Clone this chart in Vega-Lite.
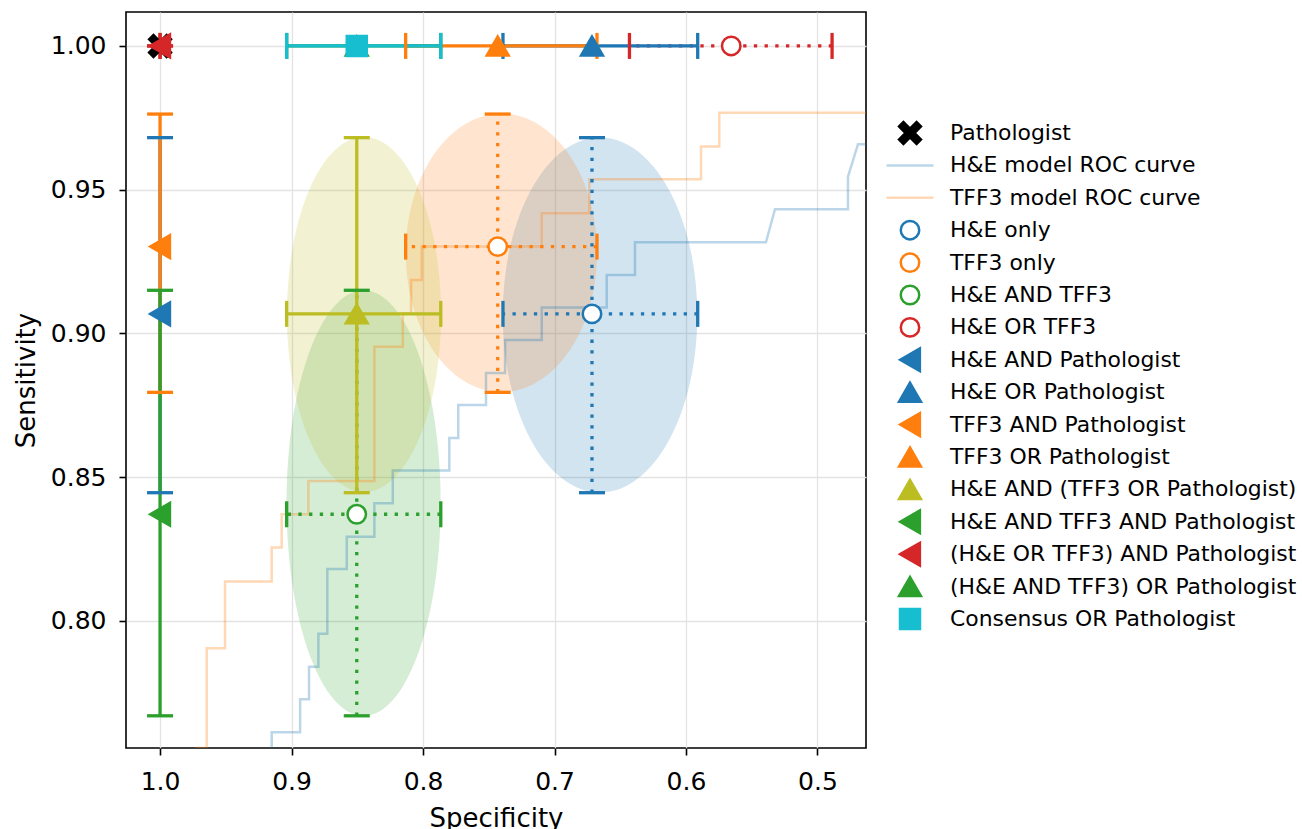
{
  "$schema": "https://vega.github.io/schema/vega-lite/v6.json",
  "width": 740,
  "height": 736,
  "autosize": {"type": "none"},
  "padding": {"left": 126, "top": 12, "right": 436, "bottom": 81},
  "background": "white",
  "datasets": {
    "points": [
      {"label": "Pathologist", "spec": 1.0, "sens": 1.0},
      {"label": "H&E only", "spec": 0.6715, "sens": 0.9068},
      {"label": "TFF3 only", "spec": 0.7432, "sens": 0.9302},
      {"label": "H&E AND TFF3", "spec": 0.8504, "sens": 0.8371},
      {"label": "H&E OR TFF3", "spec": 0.5656, "sens": 1.0},
      {"label": "H&E AND Pathologist", "spec": 1.0, "sens": 0.9068},
      {"label": "H&E OR Pathologist", "spec": 0.6715, "sens": 1.0},
      {"label": "TFF3 AND Pathologist", "spec": 1.0, "sens": 0.9302},
      {"label": "TFF3 OR Pathologist", "spec": 0.7432, "sens": 1.0},
      {"label": "H&E AND (TFF3 OR Pathologist)", "spec": 0.8504, "sens": 0.9068},
      {"label": "H&E AND TFF3 AND Pathologist", "spec": 1.0, "sens": 0.8371},
      {"label": "(H&E OR TFF3) AND Pathologist", "spec": 1.0, "sens": 1.0},
      {"label": "(H&E AND TFF3) OR Pathologist", "spec": 0.8504, "sens": 1.0},
      {"label": "Consensus OR Pathologist", "spec": 0.8504, "sens": 1.0}
    ],
    "vbars": [
      {"label": "H&E only", "kind": "model", "spec": 0.6715, "ylo": 0.8446, "yhi": 0.9681},
      {"label": "TFF3 only", "kind": "model", "spec": 0.7432, "ylo": 0.8795, "yhi": 0.9763},
      {"label": "H&E AND TFF3", "kind": "model", "spec": 0.8504, "ylo": 0.767, "yhi": 0.915},
      {"label": "H&E AND Pathologist", "kind": "combined", "spec": 1.0, "ylo": 0.8446, "yhi": 0.9681},
      {"label": "TFF3 AND Pathologist", "kind": "combined", "spec": 1.0, "ylo": 0.8795, "yhi": 0.9763},
      {"label": "H&E AND (TFF3 OR Pathologist)", "kind": "combined", "spec": 0.8504, "ylo": 0.8446, "yhi": 0.9681},
      {"label": "H&E AND TFF3 AND Pathologist", "kind": "combined", "spec": 1.0, "ylo": 0.767, "yhi": 0.915},
      {"label": "(H&E OR TFF3) AND Pathologist", "kind": "combined", "spec": 1.0, "ylo": 1.0, "yhi": 1.0}
    ],
    "hbars": [
      {"label": "H&E only", "kind": "model", "sens": 0.9068, "xlo": 0.5911, "xhi": 0.7392},
      {"label": "TFF3 only", "kind": "model", "sens": 0.9302, "xlo": 0.6677, "xhi": 0.8132},
      {"label": "H&E AND TFF3", "kind": "model", "sens": 0.8371, "xlo": 0.7865, "xhi": 0.9037},
      {"label": "H&E OR TFF3", "kind": "model", "sens": 1.0, "xlo": 0.4889, "xhi": 0.643},
      {"label": "H&E OR Pathologist", "kind": "combined", "sens": 1.0, "xlo": 0.5911, "xhi": 0.7392},
      {"label": "TFF3 OR Pathologist", "kind": "combined", "sens": 1.0, "xlo": 0.6677, "xhi": 0.8132},
      {"label": "H&E AND (TFF3 OR Pathologist)", "kind": "combined", "sens": 0.9068, "xlo": 0.7865, "xhi": 0.9037},
      {"label": "(H&E OR TFF3) AND Pathologist", "kind": "combined", "sens": 1.0, "xlo": 1.0, "xhi": 1.0},
      {"label": "(H&E AND TFF3) OR Pathologist", "kind": "combined", "sens": 1.0, "xlo": 0.7865, "xhi": 0.9037},
      {"label": "Consensus OR Pathologist", "kind": "combined", "sens": 1.0, "xlo": 0.7865, "xhi": 0.9037}
    ],
    "rocHE": [
      {"i": 0, "spec": 0.9151, "sens": 0.745}, {"i": 1, "spec": 0.9151, "sens": 0.7613},
      {"i": 2, "spec": 0.8935, "sens": 0.7613}, {"i": 3, "spec": 0.8935, "sens": 0.7728},
      {"i": 4, "spec": 0.8867, "sens": 0.7728}, {"i": 5, "spec": 0.8867, "sens": 0.7841},
      {"i": 6, "spec": 0.8796, "sens": 0.7841}, {"i": 7, "spec": 0.8796, "sens": 0.7955},
      {"i": 8, "spec": 0.8728, "sens": 0.7955}, {"i": 9, "spec": 0.8728, "sens": 0.8181},
      {"i": 10, "spec": 0.858, "sens": 0.8181}, {"i": 11, "spec": 0.858, "sens": 0.8293},
      {"i": 12, "spec": 0.837, "sens": 0.8293}, {"i": 13, "spec": 0.837, "sens": 0.8409},
      {"i": 14, "spec": 0.823, "sens": 0.8409}, {"i": 15, "spec": 0.823, "sens": 0.8523},
      {"i": 16, "spec": 0.78, "sens": 0.8523}, {"i": 17, "spec": 0.78, "sens": 0.8636},
      {"i": 18, "spec": 0.7732, "sens": 0.8636}, {"i": 19, "spec": 0.7732, "sens": 0.8751},
      {"i": 20, "spec": 0.7521, "sens": 0.8751}, {"i": 21, "spec": 0.7521, "sens": 0.8862},
      {"i": 22, "spec": 0.7376, "sens": 0.8862}, {"i": 23, "spec": 0.7376, "sens": 0.8977},
      {"i": 24, "spec": 0.7097, "sens": 0.8977}, {"i": 25, "spec": 0.7097, "sens": 0.909},
      {"i": 26, "spec": 0.6603, "sens": 0.909}, {"i": 27, "spec": 0.6603, "sens": 0.9203},
      {"i": 28, "spec": 0.6388, "sens": 0.9203}, {"i": 29, "spec": 0.6388, "sens": 0.9317},
      {"i": 30, "spec": 0.5392, "sens": 0.9317}, {"i": 31, "spec": 0.5323, "sens": 0.9432},
      {"i": 32, "spec": 0.4768, "sens": 0.9432}, {"i": 33, "spec": 0.4768, "sens": 0.9545},
      {"i": 34, "spec": 0.4692, "sens": 0.9658}, {"i": 35, "spec": 0.44, "sens": 0.9658}
    ],
    "rocTFF3": [
      {"i": 0, "spec": 0.9721, "sens": 0.745}, {"i": 1, "spec": 0.9721, "sens": 0.7558},
      {"i": 2, "spec": 0.9645, "sens": 0.7558}, {"i": 3, "spec": 0.9645, "sens": 0.7905},
      {"i": 4, "spec": 0.9506, "sens": 0.7905}, {"i": 5, "spec": 0.9506, "sens": 0.8137},
      {"i": 6, "spec": 0.9151, "sens": 0.8137}, {"i": 7, "spec": 0.9151, "sens": 0.8255},
      {"i": 8, "spec": 0.9075, "sens": 0.8255}, {"i": 9, "spec": 0.9075, "sens": 0.8371},
      {"i": 10, "spec": 0.8872, "sens": 0.8371}, {"i": 11, "spec": 0.8872, "sens": 0.8487},
      {"i": 12, "spec": 0.837, "sens": 0.8487}, {"i": 13, "spec": 0.837, "sens": 0.8954},
      {"i": 14, "spec": 0.8154, "sens": 0.8954}, {"i": 15, "spec": 0.8154, "sens": 0.907},
      {"i": 16, "spec": 0.8091, "sens": 0.907}, {"i": 17, "spec": 0.8091, "sens": 0.9186},
      {"i": 18, "spec": 0.801, "sens": 0.9186}, {"i": 19, "spec": 0.801, "sens": 0.9302},
      {"i": 20, "spec": 0.7097, "sens": 0.9302}, {"i": 21, "spec": 0.7097, "sens": 0.9418},
      {"i": 22, "spec": 0.6735, "sens": 0.9418}, {"i": 23, "spec": 0.6735, "sens": 0.9536},
      {"i": 24, "spec": 0.5886, "sens": 0.9536}, {"i": 25, "spec": 0.5886, "sens": 0.965},
      {"i": 26, "spec": 0.5747, "sens": 0.965}, {"i": 27, "spec": 0.5747, "sens": 0.9768},
      {"i": 28, "spec": 0.44, "sens": 0.9768}
    ]
  },
  "layer": [
    {
      "data": {"values": [{"label": "H&E only", "spec": 0.6654, "sens": 0.9064}]},
      "mark": {"type": "point", "shape": "M0,-1C0.3027,-1 0.548,-0.5523 0.548,0C0.548,0.5523 0.3027,1 0,1C-0.3027,1 -0.548,0.5523 -0.548,0C-0.548,-0.5523 -0.3027,-1 0,-1Z", "size": 126025, "filled": true, "fill": "#1f77b4", "fillOpacity": 0.2, "strokeWidth": 0, "opacity": 1},
      "encoding": {
        "x": {"field": "spec", "type": "quantitative", "scale": {"domain": [0.4631, 1.0259], "reverse": true, "nice": false, "zero": false}, "axis": {"title": "Specificity", "values": [0.5, 0.6, 0.7, 0.8, 0.9, 1.0], "format": ".1f", "labelPadding": 14, "titlePadding": 11}},
        "y": {"field": "sens", "type": "quantitative", "scale": {"domain": [0.7558, 1.0118], "nice": false, "zero": false}, "axis": {"title": "Sensitivity", "values": [0.8, 0.85, 0.9, 0.95, 1.0], "format": ".2f", "labelPadding": 13, "titlePadding": 11}}
      }
    },
    {
      "data": {"values": [{"label": "TFF3 only", "spec": 0.7404, "sens": 0.928}]},
      "mark": {"type": "point", "shape": "M0,-1C0.3794,-1 0.687,-0.5523 0.687,0C0.687,0.5523 0.3794,1 0,1C-0.3794,1 -0.687,0.5523 -0.687,0C-0.687,-0.5523 -0.3794,-1 0,-1Z", "size": 77451, "filled": true, "fill": "#ff7f0e", "fillOpacity": 0.2, "strokeWidth": 0, "opacity": 1},
      "encoding": {
        "x": {"field": "spec", "type": "quantitative", "scale": {"domain": [0.4631, 1.0259], "reverse": true, "nice": false, "zero": false}, "axis": {"title": "Specificity", "values": [0.5, 0.6, 0.7, 0.8, 0.9, 1.0], "format": ".1f", "labelPadding": 14, "titlePadding": 11}},
        "y": {"field": "sens", "type": "quantitative", "scale": {"domain": [0.7558, 1.0118], "nice": false, "zero": false}, "axis": {"title": "Sensitivity", "values": [0.8, 0.85, 0.9, 0.95, 1.0], "format": ".2f", "labelPadding": 13, "titlePadding": 11}}
      }
    },
    {
      "data": {"values": [{"label": "H&E AND TFF3", "spec": 0.8452, "sens": 0.841}]},
      "mark": {"type": "point", "shape": "M0,-1C0.1999,-1 0.362,-0.5523 0.362,0C0.362,0.5523 0.1999,1 0,1C-0.1999,1 -0.362,0.5523 -0.362,0C-0.362,-0.5523 -0.1999,-1 0,-1Z", "size": 181220, "filled": true, "fill": "#2ca02c", "fillOpacity": 0.2, "strokeWidth": 0, "opacity": 1},
      "encoding": {
        "x": {"field": "spec", "type": "quantitative", "scale": {"domain": [0.4631, 1.0259], "reverse": true, "nice": false, "zero": false}, "axis": {"title": "Specificity", "values": [0.5, 0.6, 0.7, 0.8, 0.9, 1.0], "format": ".1f", "labelPadding": 14, "titlePadding": 11}},
        "y": {"field": "sens", "type": "quantitative", "scale": {"domain": [0.7558, 1.0118], "nice": false, "zero": false}, "axis": {"title": "Sensitivity", "values": [0.8, 0.85, 0.9, 0.95, 1.0], "format": ".2f", "labelPadding": 13, "titlePadding": 11}}
      }
    },
    {
      "data": {"values": [{"label": "H&E AND (TFF3 OR Pathologist)", "spec": 0.8449, "sens": 0.9066}]},
      "mark": {"type": "point", "shape": "M0,-1C0.2397,-1 0.434,-0.5523 0.434,0C0.434,0.5523 0.2397,1 0,1C-0.2397,1 -0.434,0.5523 -0.434,0C-0.434,-0.5523 -0.2397,-1 0,-1Z", "size": 126025, "filled": true, "fill": "#bcbd22", "fillOpacity": 0.2, "strokeWidth": 0, "opacity": 1},
      "encoding": {
        "x": {"field": "spec", "type": "quantitative", "scale": {"domain": [0.4631, 1.0259], "reverse": true, "nice": false, "zero": false}, "axis": {"title": "Specificity", "values": [0.5, 0.6, 0.7, 0.8, 0.9, 1.0], "format": ".1f", "labelPadding": 14, "titlePadding": 11}},
        "y": {"field": "sens", "type": "quantitative", "scale": {"domain": [0.7558, 1.0118], "nice": false, "zero": false}, "axis": {"title": "Sensitivity", "values": [0.8, 0.85, 0.9, 0.95, 1.0], "format": ".2f", "labelPadding": 13, "titlePadding": 11}}
      }
    },
    {
      "data": {"name": "rocHE"},
      "mark": {"type": "line", "stroke": "#1f77b4", "strokeOpacity": 0.3, "strokeWidth": 2.5, "clip": true},
      "encoding": {
        "x": {"field": "spec", "type": "quantitative", "scale": {"domain": [0.4631, 1.0259], "reverse": true, "nice": false, "zero": false}, "axis": {"title": "Specificity", "values": [0.5, 0.6, 0.7, 0.8, 0.9, 1.0], "format": ".1f", "labelPadding": 14, "titlePadding": 11}},
        "y": {"field": "sens", "type": "quantitative", "scale": {"domain": [0.7558, 1.0118], "nice": false, "zero": false}, "axis": {"title": "Sensitivity", "values": [0.8, 0.85, 0.9, 0.95, 1.0], "format": ".2f", "labelPadding": 13, "titlePadding": 11}},
        "order": {"field": "i", "type": "quantitative"}
      }
    },
    {
      "data": {"name": "rocTFF3"},
      "mark": {"type": "line", "stroke": "#ff7f0e", "strokeOpacity": 0.3, "strokeWidth": 2.5, "clip": true},
      "encoding": {
        "x": {"field": "spec", "type": "quantitative", "scale": {"domain": [0.4631, 1.0259], "reverse": true, "nice": false, "zero": false}, "axis": {"title": "Specificity", "values": [0.5, 0.6, 0.7, 0.8, 0.9, 1.0], "format": ".1f", "labelPadding": 14, "titlePadding": 11}},
        "y": {"field": "sens", "type": "quantitative", "scale": {"domain": [0.7558, 1.0118], "nice": false, "zero": false}, "axis": {"title": "Sensitivity", "values": [0.8, 0.85, 0.9, 0.95, 1.0], "format": ".2f", "labelPadding": 13, "titlePadding": 11}},
        "order": {"field": "i", "type": "quantitative"}
      }
    },
    {
      "data": {"name": "vbars"},
      "mark": {"type": "rule", "strokeWidth": 3.3},
      "encoding": {
        "x": {"field": "spec", "type": "quantitative", "scale": {"domain": [0.4631, 1.0259], "reverse": true, "nice": false, "zero": false}, "axis": {"title": "Specificity", "values": [0.5, 0.6, 0.7, 0.8, 0.9, 1.0], "format": ".1f", "labelPadding": 14, "titlePadding": 11}},
        "y": {"field": "ylo", "type": "quantitative", "scale": {"domain": [0.7558, 1.0118], "nice": false, "zero": false}, "axis": {"title": "Sensitivity", "values": [0.8, 0.85, 0.9, 0.95, 1.0], "format": ".2f", "labelPadding": 13, "titlePadding": 11}},
        "y2": {"field": "yhi"},
        "color": {"field": "label", "type": "nominal", "legend": null, "scale": {"domain": ["Consensus OR Pathologist", "(H&E AND TFF3) OR Pathologist", "(H&E OR TFF3) AND Pathologist", "H&E AND TFF3 AND Pathologist", "H&E AND (TFF3 OR Pathologist)", "TFF3 OR Pathologist", "TFF3 AND Pathologist", "H&E OR Pathologist", "H&E AND Pathologist", "H&E OR TFF3", "H&E AND TFF3", "TFF3 only", "H&E only"], "range": ["#17becf", "#2ca02c", "#d62728", "#2ca02c", "#bcbd22", "#ff7f0e", "#ff7f0e", "#1f77b4", "#1f77b4", "#d62728", "#2ca02c", "#ff7f0e", "#1f77b4"]}},
        "strokeDash": {"field": "kind", "type": "nominal", "legend": null, "scale": {"domain": ["model", "combined"], "range": [[3.3, 7.4], [1, 0]]}}
      }
    },
    {
      "data": {"name": "hbars"},
      "mark": {"type": "rule", "strokeWidth": 3.3},
      "encoding": {
        "x": {"field": "xlo", "type": "quantitative", "scale": {"domain": [0.4631, 1.0259], "reverse": true, "nice": false, "zero": false}, "axis": {"title": "Specificity", "values": [0.5, 0.6, 0.7, 0.8, 0.9, 1.0], "format": ".1f", "labelPadding": 14, "titlePadding": 11}},
        "x2": {"field": "xhi"},
        "y": {"field": "sens", "type": "quantitative", "scale": {"domain": [0.7558, 1.0118], "nice": false, "zero": false}, "axis": {"title": "Sensitivity", "values": [0.8, 0.85, 0.9, 0.95, 1.0], "format": ".2f", "labelPadding": 13, "titlePadding": 11}},
        "color": {"field": "label", "type": "nominal", "legend": null},
        "strokeDash": {"field": "kind", "type": "nominal", "legend": null}
      }
    },
    {
      "data": {"name": "vbars"},
      "mark": {"type": "tick", "orient": "horizontal", "size": 26, "thickness": 3.3, "opacity": 1},
      "encoding": {
        "x": {"field": "spec", "type": "quantitative", "scale": {"domain": [0.4631, 1.0259], "reverse": true, "nice": false, "zero": false}, "axis": {"title": "Specificity", "values": [0.5, 0.6, 0.7, 0.8, 0.9, 1.0], "format": ".1f", "labelPadding": 14, "titlePadding": 11}},
        "y": {"field": "ylo", "type": "quantitative", "scale": {"domain": [0.7558, 1.0118], "nice": false, "zero": false}, "axis": {"title": "Sensitivity", "values": [0.8, 0.85, 0.9, 0.95, 1.0], "format": ".2f", "labelPadding": 13, "titlePadding": 11}},
        "color": {"field": "label", "type": "nominal", "legend": null}
      }
    },
    {
      "data": {"name": "vbars"},
      "mark": {"type": "tick", "orient": "horizontal", "size": 26, "thickness": 3.3, "opacity": 1},
      "encoding": {
        "x": {"field": "spec", "type": "quantitative", "scale": {"domain": [0.4631, 1.0259], "reverse": true, "nice": false, "zero": false}, "axis": {"title": "Specificity", "values": [0.5, 0.6, 0.7, 0.8, 0.9, 1.0], "format": ".1f", "labelPadding": 14, "titlePadding": 11}},
        "y": {"field": "yhi", "type": "quantitative", "scale": {"domain": [0.7558, 1.0118], "nice": false, "zero": false}, "axis": {"title": "Sensitivity", "values": [0.8, 0.85, 0.9, 0.95, 1.0], "format": ".2f", "labelPadding": 13, "titlePadding": 11}},
        "color": {"field": "label", "type": "nominal", "legend": null}
      }
    },
    {
      "data": {"name": "hbars"},
      "mark": {"type": "tick", "orient": "vertical", "size": 26, "thickness": 3.3, "opacity": 1},
      "encoding": {
        "x": {"field": "xlo", "type": "quantitative", "scale": {"domain": [0.4631, 1.0259], "reverse": true, "nice": false, "zero": false}, "axis": {"title": "Specificity", "values": [0.5, 0.6, 0.7, 0.8, 0.9, 1.0], "format": ".1f", "labelPadding": 14, "titlePadding": 11}},
        "y": {"field": "sens", "type": "quantitative", "scale": {"domain": [0.7558, 1.0118], "nice": false, "zero": false}, "axis": {"title": "Sensitivity", "values": [0.8, 0.85, 0.9, 0.95, 1.0], "format": ".2f", "labelPadding": 13, "titlePadding": 11}},
        "color": {"field": "label", "type": "nominal", "legend": null}
      }
    },
    {
      "data": {"name": "hbars"},
      "mark": {"type": "tick", "orient": "vertical", "size": 26, "thickness": 3.3, "opacity": 1},
      "encoding": {
        "x": {"field": "xhi", "type": "quantitative", "scale": {"domain": [0.4631, 1.0259], "reverse": true, "nice": false, "zero": false}, "axis": {"title": "Specificity", "values": [0.5, 0.6, 0.7, 0.8, 0.9, 1.0], "format": ".1f", "labelPadding": 14, "titlePadding": 11}},
        "y": {"field": "sens", "type": "quantitative", "scale": {"domain": [0.7558, 1.0118], "nice": false, "zero": false}, "axis": {"title": "Sensitivity", "values": [0.8, 0.85, 0.9, 0.95, 1.0], "format": ".2f", "labelPadding": 13, "titlePadding": 11}},
        "color": {"field": "label", "type": "nominal", "legend": null}
      }
    },
    {
      "data": {"name": "points"},
      "mark": {"type": "point", "filled": true, "strokeWidth": 2.5, "opacity": 1},
      "encoding": {
        "x": {"field": "spec", "type": "quantitative", "scale": {"domain": [0.4631, 1.0259], "reverse": true, "nice": false, "zero": false}, "axis": {"title": "Specificity", "values": [0.5, 0.6, 0.7, 0.8, 0.9, 1.0], "format": ".1f", "labelPadding": 14, "titlePadding": 11}},
        "y": {"field": "sens", "type": "quantitative", "scale": {"domain": [0.7558, 1.0118], "nice": false, "zero": false}, "axis": {"title": "Sensitivity", "values": [0.8, 0.85, 0.9, 0.95, 1.0], "format": ".2f", "labelPadding": 13, "titlePadding": 11}},
        "fill": {"field": "label", "type": "nominal",
          "scale": {"domain": ["Pathologist", "H&E model ROC curve", "TFF3 model ROC curve", "H&E only", "TFF3 only", "H&E AND TFF3", "H&E OR TFF3", "H&E AND Pathologist", "H&E OR Pathologist", "TFF3 AND Pathologist", "TFF3 OR Pathologist", "H&E AND (TFF3 OR Pathologist)", "H&E AND TFF3 AND Pathologist", "(H&E OR TFF3) AND Pathologist", "(H&E AND TFF3) OR Pathologist", "Consensus OR Pathologist"], "range": ["#000000", "#bcd6e8", "#ffd9b7", "#ffffff", "#ffffff", "#ffffff", "#ffffff", "#1f77b4", "#1f77b4", "#ff7f0e", "#ff7f0e", "#bcbd22", "#2ca02c", "#d62728", "#2ca02c", "#17becf"]},
          "legend": {"title": null, "orient": "none", "legendX": 759, "legendY": 106, "clipHeight": 30, "rowPadding": 2.4, "labelOffset": 15, "labelFont": "DejaVu Sans", "labelFontSize": 21.9, "labelColor": "black", "labelLimit": 500, "symbolStrokeWidth": 2.5, "padding": 0}},
        "stroke": {"field": "label", "type": "nominal",
          "scale": {"domain": ["Pathologist", "H&E model ROC curve", "TFF3 model ROC curve", "H&E only", "TFF3 only", "H&E AND TFF3", "H&E OR TFF3", "H&E AND Pathologist", "H&E OR Pathologist", "TFF3 AND Pathologist", "TFF3 OR Pathologist", "H&E AND (TFF3 OR Pathologist)", "H&E AND TFF3 AND Pathologist", "(H&E OR TFF3) AND Pathologist", "(H&E AND TFF3) OR Pathologist", "Consensus OR Pathologist"], "range": ["#000000", "#bcd6e8", "#ffd9b7", "#1f77b4", "#ff7f0e", "#2ca02c", "#d62728", "#1f77b4", "#1f77b4", "#ff7f0e", "#ff7f0e", "#bcbd22", "#2ca02c", "#d62728", "#2ca02c", "#17becf"]},
          "legend": {"title": null, "orient": "none", "legendX": 759, "legendY": 106, "clipHeight": 30, "rowPadding": 2.4, "labelOffset": 15, "labelFont": "DejaVu Sans", "labelFontSize": 21.9, "labelColor": "black", "labelLimit": 500, "symbolStrokeWidth": 2.5, "padding": 0}},
        "shape": {"field": "label", "type": "nominal",
          "scale": {"domain": ["Pathologist", "H&E model ROC curve", "TFF3 model ROC curve", "H&E only", "TFF3 only", "H&E AND TFF3", "H&E OR TFF3", "H&E AND Pathologist", "H&E OR Pathologist", "TFF3 AND Pathologist", "TFF3 OR Pathologist", "H&E AND (TFF3 OR Pathologist)", "H&E AND TFF3 AND Pathologist", "(H&E OR TFF3) AND Pathologist", "(H&E AND TFF3) OR Pathologist", "Consensus OR Pathologist"], "range": ["M-1,-0.6L-0.6,-1L0,-0.4L0.6,-1L1,-0.6L0.4,0L1,0.6L0.6,1L0,0.4L-0.6,1L-1,0.6L-0.4,0Z", "stroke", "stroke", "circle", "circle", "circle", "circle", "triangle-left", "triangle-up", "triangle-left", "triangle-up", "triangle-up", "triangle-left", "triangle-left", "triangle-up", "square"]},
          "legend": {"title": null, "orient": "none", "legendX": 759, "legendY": 106, "clipHeight": 30, "rowPadding": 2.4, "labelOffset": 15, "labelFont": "DejaVu Sans", "labelFontSize": 21.9, "labelColor": "black", "labelLimit": 500, "symbolStrokeWidth": 2.5, "padding": 0}},
        "size": {"field": "label", "type": "nominal",
          "scale": {"type": "ordinal", "domain": ["Pathologist", "H&E model ROC curve", "TFF3 model ROC curve", "H&E only", "TFF3 only", "H&E AND TFF3", "H&E OR TFF3", "H&E AND Pathologist", "H&E OR Pathologist", "TFF3 AND Pathologist", "TFF3 OR Pathologist", "H&E AND (TFF3 OR Pathologist)", "H&E AND TFF3 AND Pathologist", "(H&E OR TFF3) AND Pathologist", "(H&E AND TFF3) OR Pathologist", "Consensus OR Pathologist"], "range": [480, 2209, 2209, 340, 340, 340, 340, 520, 480, 520, 480, 480, 520, 520, 480, 400]},
          "legend": {"title": null, "orient": "none", "legendX": 759, "legendY": 106, "clipHeight": 30, "rowPadding": 2.4, "labelOffset": 15, "labelFont": "DejaVu Sans", "labelFontSize": 21.9, "labelColor": "black", "labelLimit": 500, "symbolStrokeWidth": 2.5, "padding": 0}}
      }
    }
  ],
  "config": {
    "font": "DejaVu Sans",
    "view": {"stroke": "black", "strokeWidth": 1.6},
    "axis": {
      "labelFont": "DejaVu Sans", "labelFontSize": 25, "labelColor": "black",
      "titleFont": "DejaVu Sans", "titleFontSize": 26, "titleFontWeight": "normal", "titleColor": "black",
      "tickColor": "black", "tickWidth": 1.6, "tickSize": 7, "domain": false,
      "gridColor": "#e3e3e3", "gridWidth": 1.3
    }
  }
}
